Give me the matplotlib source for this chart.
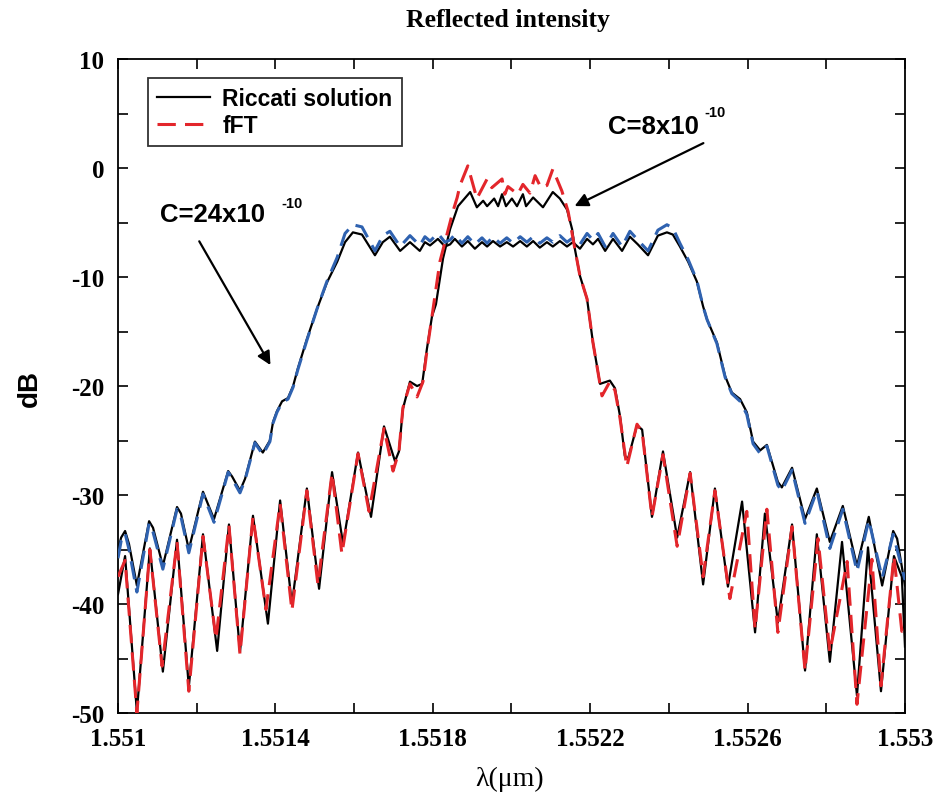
import matplotlib
matplotlib.use("Agg")
import matplotlib.pyplot as plt
from matplotlib.ticker import MultipleLocator

plt.rcParams["axes.unicode_minus"] = False

# C = 8e-10 : Riccati solution (black) and fFT (red dashed)
lam8 = [1.551000, 1.551018, 1.551048, 1.551081, 1.551114, 1.551150, 1.551180, 1.551216,
        1.551252, 1.551282, 1.551310, 1.551343, 1.551381, 1.551412, 1.551442, 1.551480,
        1.551511, 1.551544, 1.551572, 1.551610, 1.551643, 1.551676, 1.551704, 1.551714,
        1.551724, 1.551742, 1.551760, 1.551773, 1.551785, 1.551798, 1.551808, 1.551826,
        1.551844, 1.551864, 1.551895, 1.551912, 1.551928, 1.551938, 1.551956, 1.551966,
        1.551976, 1.551986, 1.552001, 1.552014, 1.552029, 1.552037, 1.552055, 1.552080,
        1.552105, 1.552123, 1.552141, 1.552154, 1.552161, 1.552174, 1.552192, 1.552207,
        1.552225, 1.552250, 1.552263, 1.552276, 1.552288, 1.552296, 1.552319, 1.552332,
        1.552357, 1.552385, 1.552421, 1.552454, 1.552487, 1.552517, 1.552550, 1.552586,
        1.552619, 1.552644, 1.552677, 1.552713, 1.552746, 1.552776, 1.552809, 1.552840,
        1.552878, 1.552906, 1.552939, 1.552972, 1.552992, 1.553000]
db8 = [-39.1, -35.6, -49.9, -34.9, -46.2, -34.1, -47.6, -33.6, -44.3, -32.7, -44.4, -31.9,
       -41.8, -30.5, -40.0, -29.4, -38.6, -27.9, -34.5, -26.1, -32.0, -23.7, -26.9, -26.0,
       -22.1, -19.6, -20.0, -19.8, -16.6, -13.6, -12.5, -8.3, -5.6, -3.5, -2.2, -3.6,
       -3.0, -3.5, -2.8, -3.5, -2.4, -3.5, -2.8, -3.5, -2.4, -3.5, -2.7, -3.6,
       -2.2, -2.8, -3.8, -5.6, -7.4, -9.9, -12.0, -16.0, -19.8, -19.5, -20.2, -22.8,
       -26.4, -26.7, -23.6, -24.0, -32.0, -26.0, -33.9, -27.9, -38.2, -29.4, -38.4, -30.6,
       -42.6, -31.7, -41.7, -32.7, -46.1, -33.6, -45.3, -34.3, -48.4, -34.8, -48.0, -35.6,
       -37.5, -43.9]

lam8_fft = [1.551000, 1.551018, 1.551048, 1.551081, 1.551112, 1.551150, 1.551180, 1.551216,
            1.551249, 1.551282, 1.551310, 1.551343, 1.551376, 1.551412, 1.551442, 1.551480,
            1.551508, 1.551544, 1.551569, 1.551610, 1.551638, 1.551676, 1.551699, 1.551714,
            1.551724, 1.551742, 1.551760, 1.551775, 1.551785, 1.551798, 1.551818, 1.551851,
            1.551862, 1.551869, 1.551889, 1.551912, 1.551938, 1.551950, 1.551976, 1.551983,
            1.551991, 1.552016, 1.552029, 1.552047, 1.552060, 1.552075, 1.552090, 1.552105,
            1.552128, 1.552144, 1.552161, 1.552174, 1.552192, 1.552207, 1.552230, 1.552250,
            1.552263, 1.552276, 1.552293, 1.552319, 1.552332, 1.552357, 1.552385, 1.552421,
            1.552454, 1.552487, 1.552517, 1.552555, 1.552598, 1.552619, 1.552649, 1.552677,
            1.552713, 1.552746, 1.552779, 1.552809, 1.552853, 1.552878, 1.552916, 1.552939,
            1.552972, 1.552992, 1.553000]
db8_fft = [-37.5, -36.0, -50.0, -35.0, -45.7, -34.3, -48.0, -33.8, -43.2, -32.8, -44.6, -32.0,
           -40.5, -30.8, -40.6, -29.6, -38.2, -28.0, -35.4, -26.2, -31.5, -23.9, -27.8, -26.0,
           -22.0, -19.8, -21.0, -19.6, -16.8, -13.6, -8.6, -4.0, -2.7, -1.6, 0.2, -2.8,
           -1.0, -1.8, -1.0, -2.4, -1.7, -2.4, -1.5, -2.3, -0.7, -1.8, -1.6, -0.1,
           -2.1, -4.0, -7.4, -9.9, -12.0, -16.0, -20.9, -19.6, -20.4, -23.0, -27.4, -23.5,
           -24.2, -32.0, -26.3, -34.7, -28.0, -37.5, -29.6, -39.5, -31.5, -42.3, -31.3, -42.6,
           -32.9, -46.1, -34.0, -44.4, -36.1, -49.2, -35.9, -47.5, -35.6, -42.5, -42.0]

# C = 24e-10 : Riccati solution (black) and fFT (blue dashed)
lam24 = [1.551000, 1.551008, 1.551018, 1.551028, 1.551048, 1.551079, 1.551089, 1.551114,
         1.551150, 1.551160, 1.551180, 1.551216, 1.551244, 1.551280, 1.551290, 1.551310,
         1.551323, 1.551348, 1.551368, 1.551386, 1.551394, 1.551404, 1.551417, 1.551432,
         1.551445, 1.551457, 1.551480, 1.551506, 1.551531, 1.551557, 1.551577, 1.551597,
         1.551620, 1.551653, 1.551673, 1.551691, 1.551717, 1.551742, 1.551767, 1.551780,
         1.551793, 1.551813, 1.551831, 1.551844, 1.551856, 1.551874, 1.551889, 1.551907,
         1.551925, 1.551938, 1.551953, 1.551971, 1.551988, 1.552004, 1.552022, 1.552039,
         1.552055, 1.552072, 1.552090, 1.552105, 1.552123, 1.552141, 1.552156, 1.552174,
         1.552192, 1.552207, 1.552220, 1.552238, 1.552258, 1.552281, 1.552301, 1.552321,
         1.552347, 1.552372, 1.552395, 1.552410, 1.552428, 1.552449, 1.552471, 1.552487,
         1.552497, 1.552522, 1.552543, 1.552560, 1.552581, 1.552598, 1.552614, 1.552632,
         1.552649, 1.552677, 1.552687, 1.552713, 1.552746, 1.552776, 1.552809, 1.552842,
         1.552878, 1.552908, 1.552942, 1.552970, 1.552980, 1.553000]
db24 = [-35.0, -33.9, -33.3, -34.5, -38.3, -32.4, -33.0, -36.5, -31.1, -31.7, -35.0, -29.7,
        -32.2, -27.8, -28.3, -29.6, -28.5, -25.1, -26.1, -25.0, -23.3, -22.3, -21.4, -21.1,
        -20.0, -18.4, -15.7, -12.9, -10.5, -8.6, -6.8, -5.9, -6.1, -8.0, -6.8, -6.3,
        -7.6, -6.8, -7.6, -6.8, -7.1, -6.5, -7.2, -7.0, -6.5, -7.2, -6.7, -7.4,
        -6.8, -7.2, -6.7, -7.2, -6.8, -7.2, -6.7, -7.2, -6.7, -7.3, -6.8, -7.2,
        -6.7, -7.2, -6.8, -7.4, -6.5, -7.0, -6.5, -7.6, -6.5, -7.6, -6.3, -7.0,
        -8.0, -6.2, -5.9, -6.1, -7.2, -8.6, -10.4, -12.7, -13.9, -16.0, -19.1, -20.6,
        -21.2, -22.4, -25.1, -25.9, -25.4, -28.8, -29.3, -27.5, -32.2, -29.4, -34.3, -31.0,
        -36.5, -32.0, -38.3, -33.3, -34.0, -38.3]
db24_fft = [-35.8, -34.2, -33.5, -35.0, -38.9, -32.6, -33.4, -36.8, -31.3, -32.0, -35.3, -29.9,
            -32.5, -27.9, -28.5, -29.8, -28.6, -25.2, -26.3, -25.1, -23.4, -22.4, -21.5, -21.2,
            -20.1, -18.5, -15.8, -12.9, -10.4, -8.2, -6.0, -5.2, -5.4, -7.6, -6.2, -5.8,
            -7.2, -6.2, -7.1, -6.3, -6.7, -6.0, -6.8, -6.6, -6.1, -6.9, -6.3, -7.0,
            -6.4, -6.9, -6.3, -6.9, -6.4, -6.9, -6.3, -6.8, -6.3, -6.9, -6.4, -6.8,
            -6.2, -6.8, -6.4, -7.0, -6.0, -6.6, -6.0, -7.2, -6.0, -7.2, -5.8, -6.6,
            -7.6, -5.7, -5.2, -5.5, -6.9, -8.4, -10.3, -12.7, -13.9, -16.1, -19.2, -20.7,
            -21.4, -22.6, -25.3, -26.2, -25.5, -29.1, -29.6, -27.7, -32.6, -29.6, -34.9, -31.3,
            -37.0, -32.3, -37.6, -33.6, -35.0, -37.8]

xticks = [1.551, 1.5514, 1.5518, 1.5522, 1.5526, 1.553]
xticklabels = ["1.551", "1.5514", "1.5518", "1.5522", "1.5526", "1.553"]
yticks = [10, 0, -10, -20, -30, -40, -50]

RED = "#e3262b"
BLUE = "#2f62b0"
serif_bold = dict(family="Liberation Serif", weight="bold")
sans_bold = dict(family="Liberation Sans", weight="bold")

fig = plt.figure(figsize=(9.38, 8.04), dpi=100)
ax = fig.add_axes([0.1258, 0.1119, 0.8390, 0.8134])

ax.plot(lam24, db24, color="black", lw=1.6, zorder=3)
ax.plot(lam24, db24_fft, color=BLUE, lw=2.2, ls=(0, (6, 3)), zorder=4)
ax.plot(lam8, db8, color="black", lw=1.6, zorder=3, label="Riccati solution")
ax.plot(lam8_fft, db8_fft, color=RED, lw=2.2, ls=(0, (6, 3)), zorder=4, label="fFT")

ax.set_xlim(1.551, 1.553)
ax.set_ylim(-50, 10)
ax.set_xticks(xticks)
ax.set_xticklabels(xticklabels)
ax.set_yticks(yticks)
ax.xaxis.set_minor_locator(MultipleLocator(0.0002))
ax.yaxis.set_minor_locator(MultipleLocator(5))
ax.tick_params(which="both", direction="in", top=True, right=True, length=7, width=1.2)
ax.tick_params(axis="x", pad=10)
ax.tick_params(axis="y", pad=10)
for lbl in ax.get_xticklabels() + ax.get_yticklabels():
    lbl.set_fontproperties(matplotlib.font_manager.FontProperties(size=18, **serif_bold))
for sp in ax.spines.values():
    sp.set_linewidth(1.3)

leg = ax.legend(loc="upper left", bbox_to_anchor=(0.038, 0.971), borderaxespad=0,
                fancybox=False, frameon=True, handlelength=2.3, handletextpad=0.55,
                prop=dict(size=16.5, **sans_bold), borderpad=0.4, labelspacing=0.15)
leg.get_frame().set_edgecolor("black")
leg.get_frame().set_linewidth(1.3)

# annotations
ax.text(1.551107, -4.9, "C=24x10", fontsize=18.5, ha="left", va="baseline", **sans_bold)
ax.text(1.551415, -3.6, "-10", fontsize=10.5, ha="left", va="baseline", **sans_bold)
ax.annotate("", xy=(1.551391, -18.3), xytext=(1.551203, -6.5),
            arrowprops=dict(arrowstyle="-|>", color="black", lw=1.6, mutation_scale=20))
ax.text(1.552245, 3.2, "C=8x10", fontsize=18.5, ha="left", va="baseline", **sans_bold)
ax.text(1.552490, 4.8, "-10", fontsize=10.5, ha="left", va="baseline", **sans_bold)
ax.annotate("", xy=(1.552154, -3.6), xytext=(1.552494, 2.4),
            arrowprops=dict(arrowstyle="-|>", color="black", lw=1.6, mutation_scale=20))

fig.text(0.5416, 0.975, "Reflected intensity", ha="center", va="center", fontsize=18.5, **serif_bold)
fig.text(0.5437, 0.030, "λ(μm)", ha="center", va="center", fontsize=20, family="Liberation Serif")
fig.text(0.032, 0.5174, "dB", ha="center", va="center", rotation=90, fontsize=20, **sans_bold)

fig.savefig("out.png", dpi=100)
